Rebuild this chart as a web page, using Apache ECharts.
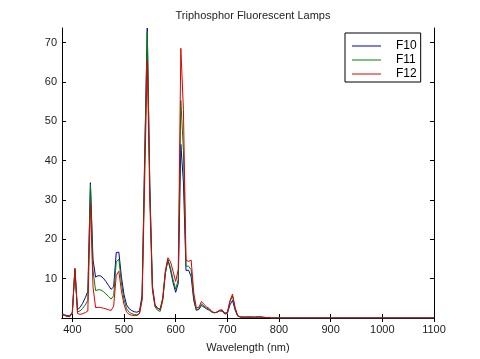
<!DOCTYPE html>
<html><head><meta charset="utf-8">
<script src="https://cdn.jsdelivr.net/npm/echarts@6/dist/echarts.min.js"></script>
<style>html,body{margin:0;padding:0;background:#fff}#c{width:480px;height:359px}</style>
</head><body><div id="c"></div>
<script>
// Wavelengths 380..780 nm, 5 nm steps
const wavelengths = [380,385,390,395,400,405,410,415,420,425,430,435,440,445,450,455,460,465,470,475,480,485,490,495,500,505,510,515,520,525,530,535,540,545,550,555,560,565,570,575,580,585,590,595,600,605,610,615,620,625,630,635,640,645,650,655,660,665,670,675,680,685,690,695,700,705,710,715,720,725,730,735,740,745,750,755,760,765,770,775,780];
const F10 = [1.11,0.80,0.62,0.57,1.48,12.16,2.12,2.70,3.74,5.14,6.75,34.39,14.86,10.40,10.76,10.67,10.11,9.27,8.29,7.29,7.91,16.64,16.73,10.44,5.94,3.34,2.35,1.88,1.59,1.47,1.80,5.71,40.98,73.69,33.61,8.24,3.38,2.47,2.14,4.86,11.45,14.79,12.16,8.97,6.52,8.81,44.12,34.55,12.09,12.15,10.52,4.43,1.95,2.19,3.19,2.77,2.29,2.00,1.52,1.35,1.47,1.79,1.74,1.02,1.14,3.32,4.49,2.05,0.49,0.24,0.21,0.21,0.24,0.24,0.21,0.17,0.21,0.22,0.17,0.12,0.09];
const F11 = [0.91,0.63,0.46,0.37,1.29,12.68,1.59,1.79,2.46,3.33,4.49,33.94,12.13,6.95,7.19,7.12,6.72,6.13,5.46,4.79,5.66,14.29,14.96,8.97,4.72,2.33,1.47,1.10,0.89,0.83,1.18,4.90,39.59,72.84,32.61,7.52,2.83,1.96,1.67,4.43,11.28,14.76,12.73,9.74,7.33,9.72,55.27,42.58,13.18,13.16,12.26,5.11,2.07,2.34,3.58,3.01,2.48,2.14,1.54,1.33,1.46,1.94,2.00,1.20,1.35,4.10,5.58,2.51,0.57,0.27,0.23,0.21,0.24,0.24,0.20,0.24,0.32,0.26,0.16,0.12,0.09];
const F12 = [0.96,0.64,0.40,0.33,1.19,12.48,1.12,0.94,1.08,1.37,1.78,29.05,7.90,2.65,2.71,2.65,2.49,2.33,2.10,1.91,3.01,10.83,11.88,6.88,3.43,1.49,0.92,0.71,0.60,0.63,1.10,4.56,34.40,65.40,29.48,7.16,3.08,2.47,2.27,5.09,11.96,15.32,14.27,11.86,9.28,12.31,68.53,53.02,14.67,14.38,14.71,6.46,2.57,2.75,4.18,3.44,2.81,2.42,1.64,1.36,1.49,1.97,2.06,1.22,1.39,4.36,6.06,2.67,0.61,0.32,0.25,0.22,0.24,0.24,0.21,0.22,0.30,0.26,0.18,0.12,0.09];
// zero padding shown out to 1100 nm
const tailWavelengths = [785, 1100];
const tailValues = [0, 0];
const seriesNames = ['F10','F11','F12'];
const seriesColors = ['#0000b0','#008000','#e00000'];
const xTicks = [400,500,600,700,800,900,1000,1100];
const yTicks = [10,20,30,40,50,60,70];

function pairs(vals){
  const out = wavelengths.map((w,i)=>[w, vals[i]]);
  tailWavelengths.forEach((w,i)=>out.push([w, tailValues[i]]));
  return out;
}
const FONT = 'Liberation Sans, Arial, sans-serif';
const chart = echarts.init(document.getElementById('c'), null, {renderer:'canvas'});
const axisLineStyle = {color:'#000', width:1};
chart.setOption({
  animation:false,
  backgroundColor:'#fff',
  color:seriesColors,
  title:{text:'Triphosphor Fluorescent Lamps', left:248, textAlign:'center', top:5,
    textStyle:{fontFamily:FONT, fontSize:11, fontWeight:'normal', color:'#222'}},
  grid:{left:62, right:46, top:28, bottom:41, show:false},
  legend:{
    orient:'vertical', left:345, top:33, width:78,
    padding:[7,4,2,7], itemGap:2, itemWidth:29, itemHeight:11,
    borderColor:'#000', borderWidth:1, backgroundColor:'#fff',
    textStyle:{fontFamily:FONT, fontSize:12, color:'#000', padding:[0,0,0,10]},
    data:seriesNames.map((n,i)=>({name:n, icon:'path://M0,5H29V6H0Z',
      itemStyle:{color:seriesColors[i], borderWidth:0}}))
  },
  xAxis:[{
    type:'value', min:380, max:1100,
    name:'Wavelength (nm)', nameLocation:'middle', nameGap:24,
    nameTextStyle:{fontFamily:FONT, fontSize:11, color:'#222'},
    axisLine:{show:true, lineStyle:axisLineStyle},
    axisTick:{show:true, inside:true, length:4, lineStyle:axisLineStyle, customValues:xTicks},
    axisLabel:{fontFamily:FONT, fontSize:11, color:'#222', margin:6, customValues:xTicks,
      formatter:v=>String(v)},
    splitLine:{show:false}
  },{
    type:'value', min:380, max:1100, position:'top',
    axisLine:{show:true, lineStyle:axisLineStyle},
    axisTick:{show:true, inside:true, length:4, lineStyle:axisLineStyle, customValues:xTicks},
    axisLabel:{show:false}, splitLine:{show:false}
  }],
  yAxis:[{
    type:'value', min:0, max:73.69,
    axisLine:{show:true, lineStyle:axisLineStyle},
    axisTick:{show:true, inside:true, length:4, lineStyle:axisLineStyle, customValues:yTicks},
    axisLabel:{fontFamily:FONT, fontSize:11, color:'#222', margin:5, customValues:yTicks,
      formatter:v=>String(v)},
    splitLine:{show:false}
  },{
    type:'value', min:0, max:73.69, position:'right',
    axisLine:{show:true, lineStyle:axisLineStyle},
    axisTick:{show:true, inside:true, length:4, lineStyle:axisLineStyle, customValues:yTicks},
    axisLabel:{show:false}, splitLine:{show:false}
  }],
  series:[F10,F11,F12].map((vals,i)=>({
    name:seriesNames[i], type:'line', data:pairs(vals),
    showSymbol:false, symbol:'none', clip:true, color:seriesColors[i],
    lineStyle:{width:1, color:seriesColors[i]}, itemStyle:{color:seriesColors[i]},
    z:2+i
  }))
});
</script></body></html>
